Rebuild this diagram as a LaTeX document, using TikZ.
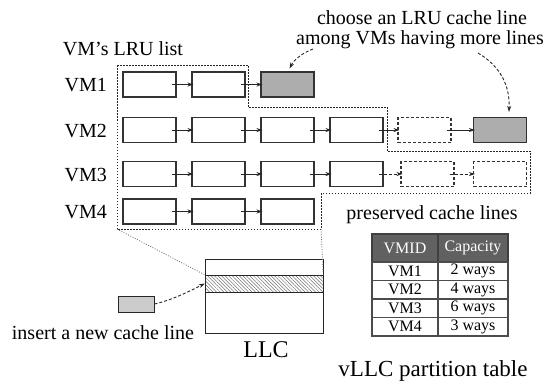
\documentclass[tikz,border=0pt]{standalone}
\usepackage{fontspec}
\setmainfont{Liberation Serif}
\usetikzlibrary{arrows.meta,patterns.meta}
\begin{document}
\begin{tikzpicture}[x=1pt,y=-1pt,
  lbl/.style={font=\fontsize{20}{20}\selectfont, inner sep=0},
  cbox/.style={draw=black!80, line width=1.1pt, minimum width=53pt, minimum height=25pt, inner sep=0, fill=white},
  pbox/.style={cbox, dash pattern=on 3pt off 2pt},
  gbox/.style={cbox, fill=black!32},
  arr/.style={-{Stealth[length=6pt,width=4pt]}, line width=0.9pt, draw=black!85},
  darr/.style={arr, dash pattern=on 3pt off 2pt},
  region/.style={line width=1pt, dash pattern=on 1.5pt off 1.5pt, draw=black!85},
  thin dots/.style={line width=0.7pt, dash pattern=on 1pt off 1.5pt, draw=black!60},
  tcell/.style={draw=black!70, line width=1.2pt, minimum height=18.5pt, inner sep=0, font=\fontsize{16}{16}\selectfont, fill=white},
  thead/.style={tcell, fill=black!62, text=white, minimum height=28pt, draw=black!75}
]
\useasboundingbox (0,0) rectangle (553,383);
\fill[white] (0,0) rectangle (553,383);

% dotted region
\draw[region] (117,65) -- (248,65) -- (248,107) -- (387,107) -- (387,151) -- (530,151) -- (530,193) -- (321,193) -- (321,229) -- (117,229) -- cycle;
\coordinate (rl) at (117,229);
\coordinate (rr) at (321,229);

% labels
\node[lbl, anchor=base] (title) at (123,55) {VM's LRU list};
\node[lbl, anchor=base east] (l1) at (107,91.5) {VM1};
\node[lbl, anchor=base east] (l2) at (107,137) {VM2};
\node[lbl, anchor=base east] (l3) at (107,181) {VM3};
\node[lbl, anchor=base east] (l4) at (107,218.5) {VM4};

% VM1
\node[cbox] (a1) at (149.5,84.5) {};
\node[cbox] (a2) at (218.5,84.5) {};
\node[gbox] (g1) at (287.5,84.5) {};
% VM2
\node[cbox] (b1) at (149.5,130) {};
\node[cbox] (b2) at (218.5,130) {};
\node[cbox] (b3) at (287.5,130) {};
\node[cbox] (b4) at (356.5,130) {};
\node[pbox] (b5) at (424.5,130) {};
\node[gbox] (g2) at (500,130) {};
% VM3
\node[cbox] (c1) at (149.5,174) {};
\node[cbox] (c2) at (218.5,174) {};
\node[cbox] (c3) at (287.5,174) {};
\node[cbox] (c4) at (356.5,174) {};
\node[pbox] (c5) at (427.5,174) {};
\node[pbox] (c6) at (500,174) {};
% VM4
\node[cbox] (d1) at (149.5,211.5) {};
\node[cbox] (d2) at (218.5,211.5) {};
\node[cbox] (d3) at (287.5,211.5) {};

% arrows
\draw[arr] ([xshift=-5pt]a1.east) -- ([xshift=2pt]a2.west);
\draw[arr] ([xshift=-5pt]a2.east) -- ([xshift=2pt]g1.west);
\draw[arr] ([xshift=-5pt]b1.east) -- ([xshift=2pt]b2.west);
\draw[arr] ([xshift=-5pt]b2.east) -- ([xshift=2pt]b3.west);
\draw[arr] ([xshift=-5pt]b3.east) -- ([xshift=2pt]b4.west);
\draw[arr] ([xshift=-5pt]b4.east) -- ([xshift=2pt]b5.west);
\draw[arr] ([xshift=-5pt]b5.east) -- ([xshift=2pt]g2.west);
\draw[arr] ([xshift=-5pt]c1.east) -- ([xshift=2pt]c2.west);
\draw[arr] ([xshift=-5pt]c2.east) -- ([xshift=2pt]c3.west);
\draw[arr] ([xshift=-5pt]c3.east) -- ([xshift=2pt]c4.west);
\draw[darr] ([xshift=-5pt]c4.east) -- ([xshift=2pt]c5.west);
\draw[darr] ([xshift=-5pt]c5.east) -- ([xshift=2pt]c6.west);
\draw[arr] ([xshift=-5pt]d1.east) -- ([xshift=2pt]d2.west);
\draw[arr] ([xshift=-5pt]d2.east) -- ([xshift=2pt]d3.west);

% choose text and curved arrows
\node[lbl, anchor=base, text depth=0pt] (ch1) at (422,24) {choose an LRU cache line};
\node[lbl, anchor=base] (ch2) at (420,44) {among VMs having more lines};
\coordinate (cs1) at (313,49);
\coordinate (cs2) at (478,53);
\draw[darr] (cs1) .. controls (302,53) and (294,60) .. ([xshift=2pt,yshift=3pt]g1.north);
\draw[darr] (cs2) .. controls (500,66) and (510,85) .. ([xshift=9pt,yshift=5pt]g2.north);

\node[lbl, anchor=base] (pres) at (432,219) {preserved cache lines};

% LLC
\node[draw=black!85, line width=1pt, minimum width=118pt, minimum height=74pt, inner sep=0, fill=white] (llc) at (264,296) {};
\node[draw=black!85, line width=1pt, minimum width=118pt, minimum height=17pt, inner sep=0,
  pattern={Lines[angle=-45,distance=2.5pt,line width=0.5pt]}, pattern color=black!55] (band) at (264,283.5) {};
\node[font=\fontsize{24}{24}\selectfont, inner sep=0, anchor=base] (llcl) at (266,357) {LLC};
\draw[thin dots] (rl) -- (band.north west);
\draw[thin dots] (rr) -- (band.north east);

% insert
\node[draw=black!85, line width=1pt, fill=black!20, minimum width=36pt, minimum height=16pt, inner sep=0] (ins) at (136,304) {};
\node[lbl, anchor=base] (insl) at (103,339) {insert a new cache line};
\draw[darr] (ins.east) .. controls (172,300) and (188,292) .. (band.west);

% table
\node[thead, minimum width=66pt] (h1) at (405,248) {VMID};
\node[thead, minimum width=70pt] (h2) at (473,248) {Capacity};
\node[tcell, minimum width=66pt] (r1a) at (405,271.25) {VM1};
\node[tcell, minimum width=70pt] (r1b) at (473,271.25) {2 ways};
\node[tcell, minimum width=66pt] (r2a) at (405,289.75) {VM2};
\node[tcell, minimum width=70pt] (r2b) at (473,289.75) {4 ways};
\node[tcell, minimum width=66pt] (r3a) at (405,308.25) {VM3};
\node[tcell, minimum width=70pt] (r3b) at (473,308.25) {6 ways};
\node[tcell, minimum width=66pt] (r4a) at (405,326.75) {VM4};
\node[tcell, minimum width=70pt] (r4b) at (473,326.75) {3 ways};
\node[font=\fontsize{23}{23}\selectfont, inner sep=0, anchor=base] (vt) at (433,376) {vLLC partition table};
\end{tikzpicture}
\end{document}
